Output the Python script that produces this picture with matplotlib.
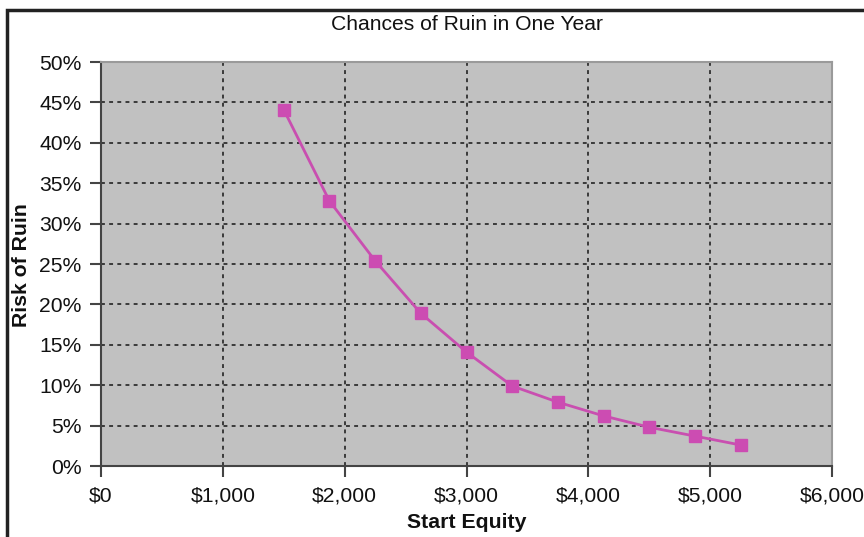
import matplotlib
matplotlib.use("Agg")
import matplotlib.pyplot as plt
from matplotlib.ticker import FuncFormatter, MultipleLocator
from matplotlib.patches import Rectangle

plt.rcParams['font.family'] = ['Liberation Sans', 'DejaVu Sans']

start_equity = [1500, 1875, 2250, 2625, 3000, 3375, 3750, 4125, 4500, 4875, 5250]
risk_of_ruin = [44.1, 32.8, 25.4, 18.9, 14.1, 9.9, 7.9, 6.2, 4.8, 3.7, 2.6]

title = "Chances of Ruin in One Year"
xlabel = "Start Equity"
ylabel = "Risk of Ruin"

fig = plt.figure(figsize=(8.64, 5.37), dpi=100)
ax = fig.add_axes([101/864, 1-466/537, (832-101)/864, (466-62)/537])

ax.set_facecolor('#c1c1c1')
ax.plot(start_equity, risk_of_ruin, color='#c94fb0', lw=2, marker='s', ms=8,
        markerfacecolor='#cc4cb2', markeredgecolor='#cc4cb2', zorder=3)

ax.set_xlim(0, 6000)
ax.set_ylim(0, 50)
ax.xaxis.set_major_locator(MultipleLocator(1000))
ax.yaxis.set_major_locator(MultipleLocator(5))
ax.xaxis.set_major_formatter(FuncFormatter(lambda v, p: f"${int(v):,}"))
ax.yaxis.set_major_formatter(FuncFormatter(lambda v, p: f"{int(v)}%"))

ax.grid(True, color='#3a3a3a', linestyle=(0, (2, 2.2)), lw=1.4)
ax.set_axisbelow(True)

for s in ['top', 'right']:
    ax.spines[s].set_color('#9a9a9a')
    ax.spines[s].set_linewidth(1.5)
for s in ['left', 'bottom']:
    ax.spines[s].set_color('#444444')
    ax.spines[s].set_linewidth(1.5)

ax.tick_params(axis='both', direction='out', length=8, width=1.5, color='#444444',
               labelsize=15.2, labelcolor='#111111')
ax.tick_params(axis='x', pad=7)
ax.tick_params(axis='y', pad=6)

fig.text(467/864, 1-25/537, title, ha='center', va='center', fontsize=15.2, color='#111111')
fig.text(467/864, 1-522/537, xlabel, ha='center', va='center', fontsize=15.3,
         fontweight='bold', color='#111111')
fig.text(22/864, 1-265/537, ylabel, ha='center', va='center', rotation=90,
         fontsize=15.3, fontweight='bold', color='#111111')

frame = Rectangle((7/864, -0.05), 1.2, 1.05 - 10/537, transform=fig.transFigure,
                  fill=False, edgecolor='#222222', lw=2.5)
fig.patches.append(frame)

fig.savefig("out.png", dpi=100)
